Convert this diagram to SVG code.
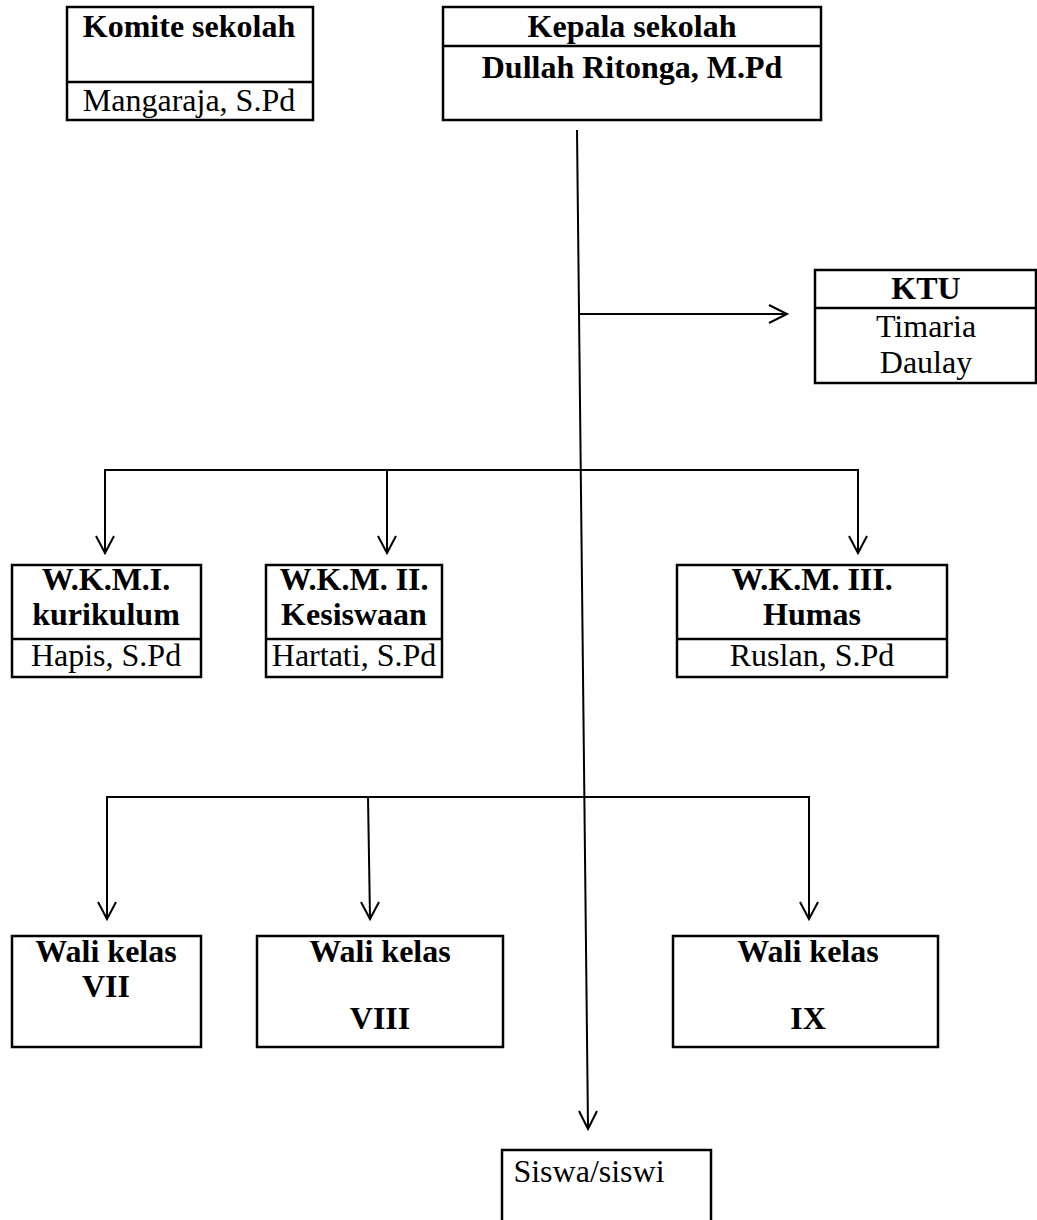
<svg xmlns="http://www.w3.org/2000/svg" width="1037" height="1220" viewBox="0 0 1037 1220">
<style>
.box{fill:#fff;stroke:#000;stroke-width:2.5}
.div{stroke:#000;stroke-width:2.5}
.ln{fill:none;stroke:#000;stroke-width:2}
.ah{fill:none;stroke:#000;stroke-width:2}
text{font-family:"Liberation Serif","Times New Roman",serif;font-size:32px;fill:#000;text-anchor:middle}
.b{font-weight:bold}
</style>
<rect width="1037" height="1220" fill="#fff"/>
<g id="connectors">
<line class="ln" x1="577" y1="130" x2="588" y2="1128"/>
<path class="ah" d="M579,1111 L588,1129 L597,1111"/>
<line class="ln" x1="578" y1="314" x2="786" y2="314"/>
<path class="ah" d="M769,305 L787,314 L769,323"/>
<path class="ln" d="M105,552 L105,470 L858,470 L858,552"/>
<line class="ln" x1="387" y1="470" x2="387" y2="552"/>
<path class="ah" d="M96,536 L105,553 L114,536"/>
<path class="ah" d="M378,536 L387,553 L396,536"/>
<path class="ah" d="M849,536 L858,553 L867,536"/>
<path class="ln" d="M107,918 L107,797 L809,797 L809,918"/>
<line class="ln" x1="368" y1="797" x2="370" y2="918"/>
<path class="ah" d="M98,902 L107,919 L116,902"/>
<path class="ah" d="M361,902 L370,919 L379,902"/>
<path class="ah" d="M800,902 L809,919 L818,902"/>
</g>
<g id="komite">
<rect class="box" x="67" y="7" width="246" height="113"/>
<line class="div" x1="67" y1="82" x2="313" y2="82"/>
<text class="b" x="189" y="37">Komite sekolah</text>
<text x="189" y="111">Mangaraja, S.Pd</text>
</g>
<g id="kepala">
<rect class="box" x="443" y="7" width="378" height="113"/>
<line class="div" x1="443" y1="46" x2="821" y2="46"/>
<text class="b" x="632" y="37">Kepala sekolah</text>
<text class="b" x="632" y="78">Dullah Ritonga, M.Pd</text>
</g>
<g id="ktu">
<rect class="box" x="815" y="270" width="221" height="113"/>
<line class="div" x1="815" y1="308" x2="1036" y2="308"/>
<text class="b" x="926" y="299">KTU</text>
<text x="926" y="337">Timaria</text>
<text x="926" y="373">Daulay</text>
</g>
<g id="wkm1">
<rect class="box" x="12" y="565" width="189" height="112"/>
<line class="div" x1="12" y1="639" x2="201" y2="639"/>
<text class="b" x="106" y="590">W.K.M.I.</text>
<text class="b" x="106" y="625">kurikulum</text>
<text x="106" y="666">Hapis, S.Pd</text>
</g>
<g id="wkm2">
<rect class="box" x="266" y="565" width="176" height="112"/>
<line class="div" x1="266" y1="639" x2="442" y2="639"/>
<text class="b" x="354" y="590">W.K.M. II.</text>
<text class="b" x="354" y="625">Kesiswaan</text>
<text x="354" y="666">Hartati, S.Pd</text>
</g>
<g id="wkm3">
<rect class="box" x="677" y="565" width="270" height="112"/>
<line class="div" x1="677" y1="639" x2="947" y2="639"/>
<text class="b" x="812" y="590">W.K.M. III.</text>
<text class="b" x="812" y="625">Humas</text>
<text x="812" y="666">Ruslan, S.Pd</text>
</g>
<g id="wali7">
<rect class="box" x="12" y="936" width="189" height="111"/>
<text class="b" x="106" y="962">Wali kelas</text>
<text class="b" x="106" y="997">VII</text>
</g>
<g id="wali8">
<rect class="box" x="257" y="936" width="246" height="111"/>
<text class="b" x="380" y="962">Wali kelas</text>
<text class="b" x="380" y="1029">VIII</text>
</g>
<g id="wali9">
<rect class="box" x="673" y="936" width="265" height="111"/>
<text class="b" x="808" y="962">Wali kelas</text>
<text class="b" x="808" y="1029">IX</text>
</g>
<g id="siswa">
<path class="box" d="M502,1222 L502,1150 L711,1150 L711,1222"/>
<text x="589" y="1182">Siswa/siswi</text>
</g>
</svg>
